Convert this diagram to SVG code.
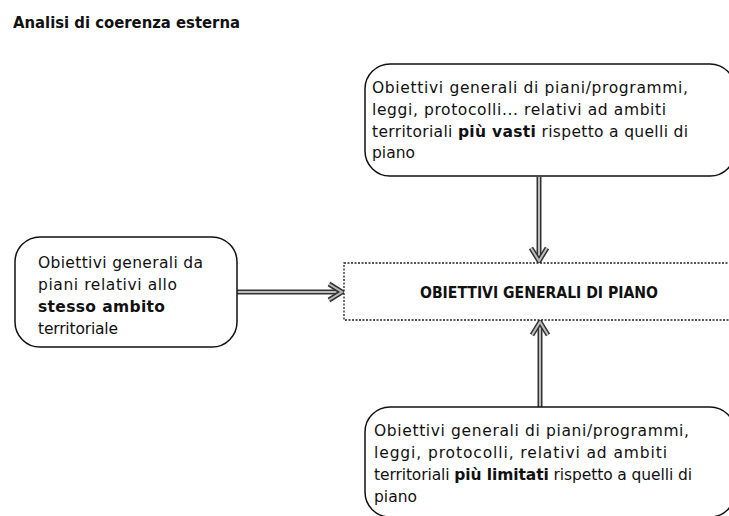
<svg xmlns="http://www.w3.org/2000/svg" width="729" height="516" viewBox="0 0 729 516">
<style>
.t{font-family:"DejaVu Sans","Liberation Sans",Arial,sans-serif;font-size:15.5px;fill:#111}
.b{font-weight:bold}
.box{fill:#fff;stroke:#111;stroke-width:1.5}
.dash{fill:#fff;stroke:#222;stroke-width:1.3;stroke-dasharray:2 1.5}
.shaftO{stroke:#333;stroke-width:5;fill:none}
.shaftI{stroke:#bbb;stroke-width:2;fill:none}
</style>
<rect width="729" height="516" fill="#fff"/>
<text class="t b" x="13" y="28" font-size="13" textLength="227" lengthAdjust="spacingAndGlyphs">Analisi di coerenza esterna</text>
<g id="connectors">
  <g id="arrow-top">
    <line class="shaftO" x1="539" y1="177" x2="539" y2="260"/>
    <line class="shaftI" x1="539" y1="177" x2="539" y2="258"/>
    <path class="shaftO" d="M531 248 L539 261 L547 248"/>
    <path class="shaftI" d="M531 248 L539 261 L547 248"/>
  </g>
  <g id="arrow-left">
    <line class="shaftO" x1="237" y1="292" x2="341" y2="292"/>
    <line class="shaftI" x1="237" y1="292" x2="339" y2="292"/>
    <path class="shaftO" d="M329 284 L342 292 L329 300"/>
    <path class="shaftI" d="M329 284 L342 292 L329 300"/>
  </g>
  <g id="arrow-bottom">
    <line class="shaftO" x1="540" y1="407" x2="540" y2="324"/>
    <line class="shaftI" x1="540" y1="407" x2="540" y2="326"/>
    <path class="shaftO" d="M532 335 L540 322 L548 335"/>
    <path class="shaftI" d="M532 335 L540 322 L548 335"/>
  </g>
</g>
<g id="node-top">
  <rect class="box" x="365" y="64" width="370" height="112" rx="25"/>
  <text class="t" x="372" y="93" textLength="316">Obiettivi generali di piani/programmi,</text>
  <text class="t" x="372" y="115" textLength="294">leggi, protocolli... relativi ad ambiti</text>
  <text class="t" x="372" y="137" textLength="316">territoriali <tspan class="b">più vasti</tspan> rispetto a quelli di</text>
  <text class="t" x="372" y="158">piano</text>
</g>
<g id="node-left">
  <rect class="box" x="15" y="237" width="222" height="110" rx="25"/>
  <text class="t" x="38" y="268" textLength="165">Obiettivi generali da</text>
  <text class="t" x="38" y="290" textLength="139">piani relativi allo</text>
  <text class="t b" x="38" y="312" textLength="127">stesso ambito</text>
  <text class="t" x="38" y="334" textLength="80">territoriale</text>
</g>
<g id="node-center">
  <rect class="dash" x="344" y="263" width="400" height="57"/>
  <text class="t b" x="420" y="298" font-size="15" textLength="238" lengthAdjust="spacingAndGlyphs">OBIETTIVI GENERALI DI PIANO</text>
</g>
<g id="node-bottom">
  <rect class="box" x="365" y="407" width="370" height="110" rx="25"/>
  <text class="t" x="374" y="436" textLength="315">Obiettivi generali di piani/programmi,</text>
  <text class="t" x="374" y="458" textLength="293">leggi, protocolli,  relativi ad ambiti</text>
  <text class="t" x="374" y="480" textLength="318">territoriali <tspan class="b">più limitati</tspan> rispetto a quelli di</text>
  <text class="t" x="374" y="502">piano</text>
</g>
</svg>
